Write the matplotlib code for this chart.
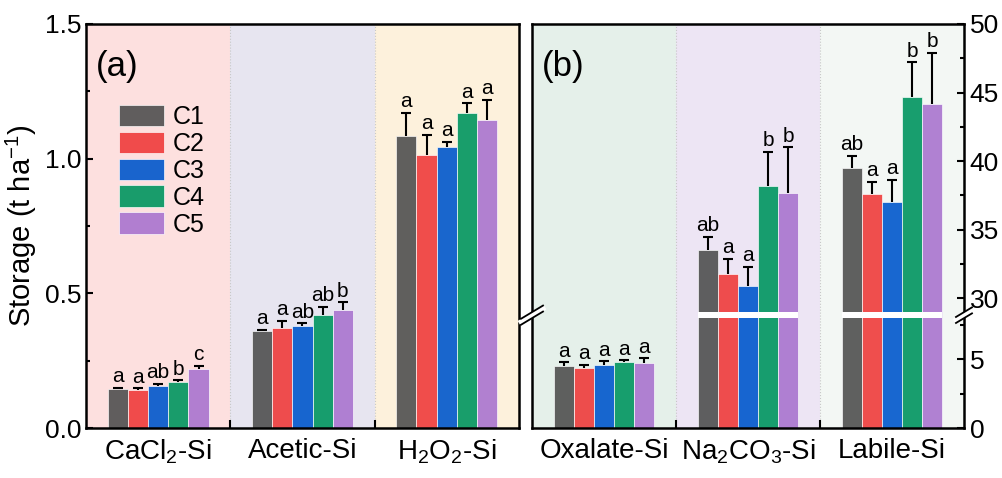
import numpy as np
import matplotlib.pyplot as plt

plt.rcParams['font.family'] = ['Liberation Sans', 'DejaVu Sans']
plt.rcParams['mathtext.default'] = 'regular'
plt.rcParams['mathtext.fontset'] = 'custom'
plt.rcParams['mathtext.rm'] = 'Liberation Sans'

series = ['C1', 'C2', 'C3', 'C4', 'C5']
colors = ['#4f4f4f', '#ef3b3b', '#0057cc', '#00955f', '#a974cf']

# panel (a)
cats_a = ['CaCl$_2$-Si', 'Acetic-Si', 'H$_2$O$_2$-Si']
cacl2_vals = [0.143, 0.142, 0.156, 0.169, 0.220]
cacl2_err = [0.006, 0.006, 0.009, 0.008, 0.012]
acetic_vals = [0.362, 0.371, 0.380, 0.421, 0.438]
acetic_err = [0.003, 0.027, 0.009, 0.029, 0.028]
h2o2_vals = [1.085, 1.012, 1.044, 1.171, 1.145]
h2o2_err = [0.085, 0.077, 0.019, 0.034, 0.074]
letters_a = [['a', 'a', 'ab', 'b', 'c'],
             ['a', 'a', 'ab', 'ab', 'b'],
             ['a', 'a', 'a', 'a', 'a']]
bg_a = ['#fde0df', '#e7e5f0', '#fdf1dc']

# panel (b)
cats_b = ['Oxalate-Si', 'Na$_2$CO$_3$-Si', 'Labile-Si']
oxalate_vals = [4.51, 4.40, 4.62, 4.80, 4.76]
oxalate_err = [0.29, 0.22, 0.24, 0.13, 0.33]
na2co3_vals = [33.5, 31.8, 30.9, 38.2, 37.7]
na2co3_err = [1.0, 1.1, 1.4, 2.5, 3.3]
labile_vals = [39.5, 37.6, 37.0, 44.7, 44.2]
labile_err = [0.9, 0.9, 1.65, 2.5, 3.7]
letters_b = [['a', 'a', 'a', 'a', 'a'],
             ['ab', 'a', 'a', 'b', 'b'],
             ['ab', 'a', 'a', 'b', 'b']]
bg_b = ['#e5f0ea', '#ede5f4', '#f3f7f4']

# broken axis for panel (b)
LOW_TOP, HIGH_BOT, GAP = 8.0, 29.0, 0.45


def fwd(y):
    y = np.asarray(y, dtype=float)
    return np.where(y <= LOW_TOP, y, y - HIGH_BOT + LOW_TOP + GAP)


fig = plt.figure(figsize=(10.03, 4.78), dpi=100)
ax_a = fig.add_axes([0.0857, 0.1046, 0.4317, 0.8452])
ax_b = fig.add_axes([0.5304, 0.1046, 0.4307, 0.8452])

width = 0.14
offsets = (np.arange(5) - 2) * width


def draw_panel(ax, vals, errs, letters, bgs, transform):
    for i, bg in enumerate(bgs):
        ax.axvspan(i - 0.5, i + 0.5, color=bg, lw=0, zorder=0)
        if i > 0:
            ax.axvline(i - 0.5, color='#c8c8c8', ls=':', lw=0.8, zorder=0.5)
    for g in range(3):
        v = np.array(vals[g])
        e = np.array(errs[g])
        x = g + offsets
        top = transform(v)
        etop = transform(v + e)
        for k in range(5):
            ax.bar(x[k], top[k], width, color=colors[k], alpha=0.9,
                   edgecolor='white', linewidth=0.5, zorder=2,
                   label=series[k] if g == 0 else None)
        # upper error bars only: stem + top cap
        ax.vlines(x, top, etop, color='black', lw=1.5, zorder=3)
        ax.plot(x, etop, ls='none', marker='_', ms=7.5, mew=1.5,
                color='black', zorder=3)
        for k in range(5):
            ax.annotate(letters[g][k], (x[k], etop[k]), xytext=(0, 1),
                        textcoords='offset points', ha='center', va='bottom',
                        fontsize=15, zorder=4)
    ax.set_xlim(-0.5, 2.5)
    ax.set_xticks([0, 1, 2])
    ax.set_xticks([0.5, 1.5], minor=True)
    ax.tick_params(axis='x', which='major', length=0, labelsize=20, pad=7)
    ax.tick_params(axis='x', which='minor', direction='in', length=6,
                   width=1.5)
    for s in ax.spines.values():
        s.set_linewidth(1.8)


identity = lambda y: np.asarray(y, dtype=float)

draw_panel(ax_a, [cacl2_vals, acetic_vals, h2o2_vals],
           [cacl2_err, acetic_err, h2o2_err], letters_a, bg_a, identity)
ax_a.set_xticklabels(cats_a)
ax_a.set_ylim(0, 1.5)
ax_a.set_yticks([0, 0.5, 1.0, 1.5])
ax_a.set_yticks([0.25, 0.75, 1.25], minor=True)
ax_a.set_yticklabels(['0.0', '0.5', '1.0', '1.5'])
ax_a.tick_params(axis='y', which='both', direction='in', width=1.5,
                 labelsize=19, left=True, right=False)
ax_a.tick_params(axis='y', which='major', length=5)
ax_a.tick_params(axis='y', which='minor', length=3)
ax_a.set_ylabel('Storage (t ha$^{-1}$)', fontsize=21, labelpad=4)
ax_a.text(0.022, 0.935, '(a)', transform=ax_a.transAxes, fontsize=25,
          va='top', ha='left')
ax_a.legend(loc='upper left', bbox_to_anchor=(0.076, 0.80), frameon=False,
            fontsize=18, handlelength=1.8, handleheight=0.95,
            labelspacing=0.1, handletextpad=0.35, borderpad=0,
            borderaxespad=0)

draw_panel(ax_b, [oxalate_vals, na2co3_vals, labile_vals],
           [oxalate_err, na2co3_err, labile_err], letters_b, bg_b, fwd)
ax_b.set_xticklabels(cats_b)
# white band where the axis is broken
for g, vals in enumerate([oxalate_vals, na2co3_vals, labile_vals]):
    for k in range(5):
        if vals[k] > LOW_TOP:
            ax_b.bar(g + offsets[k], GAP, width, bottom=LOW_TOP,
                     color='white', lw=0, zorder=2.5)
ax_b.set_ylim(0, float(fwd(50)))
major_b = [0, 5, 30, 35, 40, 45, 50]
minor_b = [2.5, 7.5, 32.5, 37.5, 42.5, 47.5]
ax_b.set_yticks(fwd(major_b))
ax_b.set_yticklabels([str(m) for m in major_b])
ax_b.set_yticks(fwd(minor_b), minor=True)
ax_b.yaxis.tick_right()
ax_b.tick_params(axis='y', which='both', direction='in', width=1.5,
                 labelsize=19, left=False, right=True, pad=4)
ax_b.tick_params(axis='y', which='major', length=5)
ax_b.tick_params(axis='y', which='minor', length=3)
ax_b.text(0.022, 0.935, '(b)', transform=ax_b.transAxes, fontsize=25,
          va='top', ha='left')

# break marks on both spines of panel (b)
yb = (LOW_TOP + GAP / 2) / float(fwd(50))
w_px, h_px = 432.0, 404.0
for xs, dx in [(0.0, 11.0), (1.0, 8.0)]:
    ddx, ddy = dx / w_px, dx * 0.6 / h_px
    sep = 3.0 / h_px
    ax_b.plot([xs - ddx, xs + ddx], [yb - ddy, yb + ddy], color='white',
              lw=3.5, transform=ax_b.transAxes, clip_on=False, zorder=10)
    for s in (-sep, sep):
        ax_b.plot([xs - ddx, xs + ddx], [yb - ddy + s, yb + ddy + s],
                  color='black', lw=1.3, transform=ax_b.transAxes,
                  clip_on=False, zorder=11)

fig.savefig('out.png', dpi=100)
